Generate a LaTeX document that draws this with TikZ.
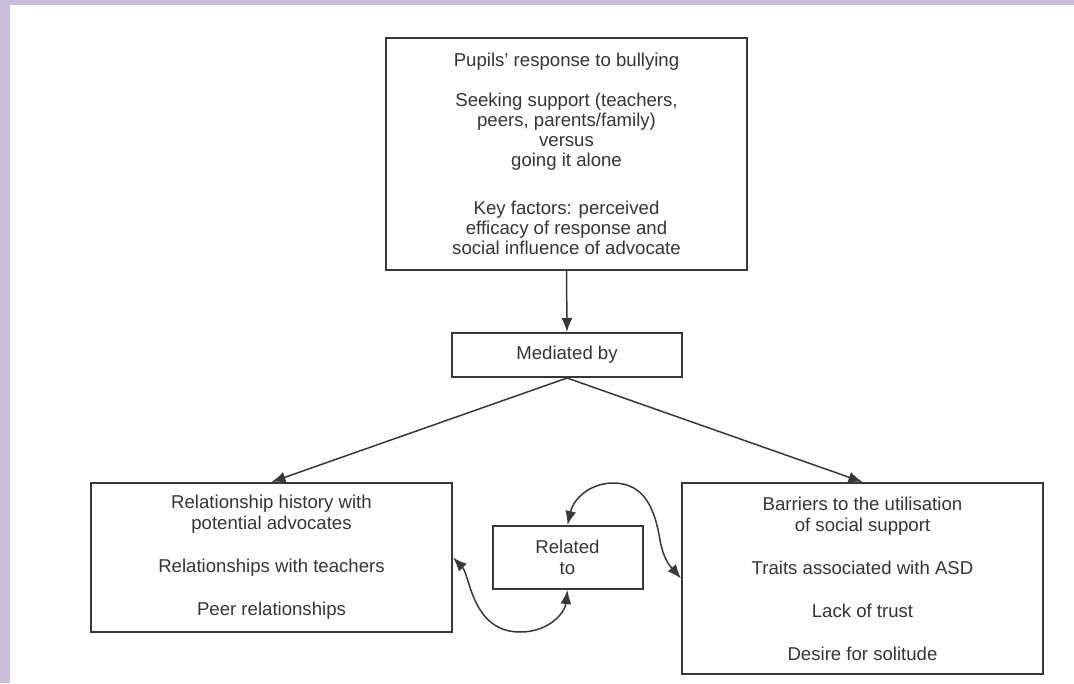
\documentclass[tikz,border=0pt]{standalone}
\usepackage{fontspec}
\setmainfont{Liberation Sans}
\usetikzlibrary{arrows.meta}
\definecolor{frame}{HTML}{C9BFDB}
\definecolor{ink}{HTML}{383838}
\definecolor{txt}{HTML}{353535}
\tikzset{
  box/.style={draw=ink, line width=2pt, fill=white, inner sep=0pt,
              align=center, text=txt,
              font=\fontsize{18.6}{21}\selectfont},
  link/.style={draw=ink, line width=1.5pt,
               -{Latex[length=14pt,width=11pt]}},
  twoway/.style={draw=ink, line width=1.5pt,
                 {Latex[length=14pt,width=11pt]}-{Latex[length=14pt,width=11pt]}}
}
\begin{document}
\begin{tikzpicture}[x=1pt,y=-1pt]
  % page with lavender edge
  \fill[frame] (0,0) rectangle (1074,683);
  \fill[white] (10,5) rectangle (1074,683);
  \useasboundingbox (0,0) rectangle (1074,683);

  \node[box, minimum width=361pt, minimum height=232pt,
        font=\fontsize{18.6}{20}\selectfont] (top) at (566.5,154)
    {Pupils' response to bullying\\[20pt]
     Seeking support (teachers,\\
     peers, parents/family)\\
     versus\\
     going it alone\\[28pt]
     Key factors: perceived\\
     efficacy of response and\\
     social influence of advocate};

  \node[box, minimum width=230pt, minimum height=44pt] (med) at (567,355)
    {Mediated by};

  \node[box, minimum width=361pt, minimum height=149pt] (left) at (271.5,557.5)
    {Relationship history with\\
     potential advocates\\[22pt]
     Relationships with teachers\\[22pt]
     Peer relationships};

  \node[box, minimum width=361pt, minimum height=191pt] (right) at (862.5,578.5)
    {Barriers to the utilisation\\
     of social support\\[22pt]
     Traits associated with ASD\\[22pt]
     Lack of trust\\[22pt]
     Desire for solitude};

  \node[box, minimum width=150pt, minimum height=63pt] (rel) at (567.5,557.5)
    {Related\\to};

  % connectors
  \draw[link] (top.south) -- (med.north);
  \draw[link] (med.south) -- (left.north);
  \draw[link] (med.south) -- (right.north);

  \draw[twoway] (rel.north)
      .. controls (574,497) and (592,483) .. (613,483)
      .. controls (645,483) and (655,510) .. (660,540)
      .. controls (664,562) and (672,568) .. (right.west);
  \draw[twoway] (left.east)
      .. controls (470,575) and (472,632) .. (520,632)
      .. controls (550,632) and (565,612) .. (rel.south);
\end{tikzpicture}
\end{document}
